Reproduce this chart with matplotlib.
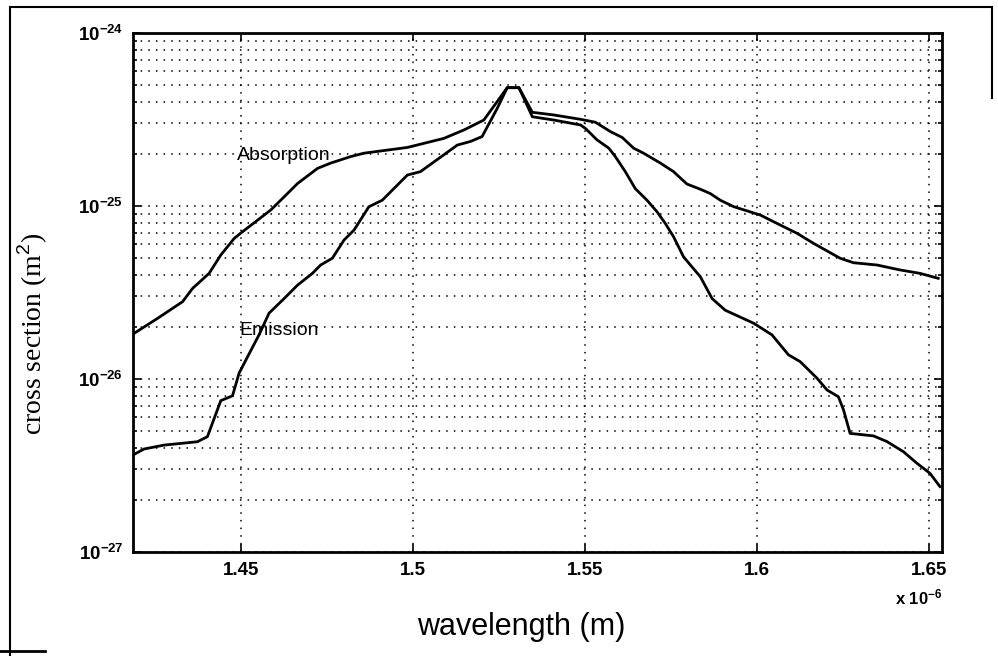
import numpy as np
import matplotlib
matplotlib.use("Agg")
import matplotlib.pyplot as plt
from matplotlib.ticker import FixedLocator, LogLocator, FuncFormatter, NullFormatter
from matplotlib.lines import Line2D

# Data (wavelength in micrometres, cross section in m^2)
abs_wl = [1.4187, 1.4258, 1.4331, 1.4360, 1.4408, 1.4442, 1.4481, 1.4505, 1.4587,
          1.4626, 1.4665, 1.4723, 1.4761, 1.4819, 1.4858, 1.4984, 1.5090, 1.5148,
          1.5206, 1.5274, 1.5308, 1.5347, 1.5409, 1.5487, 1.5501, 1.5535, 1.5569,
          1.5588, 1.5617, 1.5646, 1.5680, 1.5709, 1.5733, 1.5757, 1.5786, 1.5806,
          1.5835, 1.5869, 1.5907, 1.5990, 1.6043, 1.6091, 1.6125, 1.6174, 1.6203,
          1.6236, 1.6251, 1.6270, 1.6338, 1.6377, 1.6425, 1.6464, 1.6502, 1.6531]
abs_cs = [1.82e-26, 2.24e-26, 2.80e-26, 3.34e-26, 4.08e-26, 5.21e-26, 6.50e-26, 7.10e-26, 9.48e-26,
          1.13e-25, 1.35e-25, 1.65e-25, 1.77e-25, 1.93e-25, 2.02e-25, 2.18e-25, 2.46e-25, 2.75e-25,
          3.14e-25, 4.83e-25, 4.83e-25, 3.28e-25, 3.14e-25, 2.94e-25, 2.81e-25, 2.41e-25, 2.16e-25,
          1.93e-25, 1.58e-25, 1.26e-25, 1.08e-25, 9.27e-26, 7.94e-26, 6.65e-26, 5.09e-26, 4.56e-26,
          3.90e-26, 2.92e-26, 2.50e-26, 2.10e-26, 1.80e-26, 1.38e-26, 1.26e-26, 1.01e-26, 8.64e-27,
          7.90e-27, 6.62e-27, 4.85e-27, 4.69e-27, 4.35e-27, 3.80e-27, 3.26e-27, 2.85e-27, 2.39e-27]

em_wl = [1.4187, 1.4219, 1.4277, 1.4374, 1.4403, 1.4442, 1.4476, 1.4495, 1.4515, 1.4553,
         1.4582, 1.4626, 1.4665, 1.4708, 1.4732, 1.4766, 1.4800, 1.4829, 1.4872, 1.4911,
         1.4984, 1.5022, 1.5129, 1.5167, 1.5201, 1.5245, 1.5274, 1.5308, 1.5347, 1.5409,
         1.5487, 1.5530, 1.5574, 1.5608, 1.5641, 1.5670, 1.5719, 1.5757, 1.5796, 1.5835,
         1.5864, 1.5893, 1.5932, 1.6009, 1.6048, 1.6116, 1.6164, 1.6241, 1.6280, 1.6348,
         1.6415, 1.6473, 1.6526]
em_cs = [3.64e-27, 3.94e-27, 4.15e-27, 4.34e-27, 4.64e-27, 7.50e-27, 8.00e-27, 1.08e-26, 1.29e-26, 1.80e-26,
         2.40e-26, 2.92e-26, 3.49e-26, 4.08e-26, 4.56e-26, 4.99e-26, 6.36e-26, 7.26e-26, 9.90e-26, 1.08e-25,
         1.51e-25, 1.58e-25, 2.25e-25, 2.36e-25, 2.52e-25, 3.67e-25, 4.83e-25, 4.83e-25, 3.48e-25, 3.36e-25,
         3.17e-25, 3.05e-25, 2.69e-25, 2.49e-25, 2.16e-25, 2.02e-25, 1.77e-25, 1.58e-25, 1.34e-25, 1.25e-25,
         1.18e-25, 1.08e-25, 9.91e-26, 8.87e-26, 8.11e-26, 6.95e-26, 6.08e-26, 4.99e-26, 4.70e-26, 4.56e-26,
         4.27e-26, 4.08e-26, 3.82e-26]

x_ticks_um = [1.45, 1.5, 1.55, 1.6, 1.65]

plt.rcParams['font.family'] = ['Liberation Sans', 'DejaVu Sans']
plt.rcParams['mathtext.fontset'] = 'custom'
plt.rcParams['mathtext.rm'] = 'Liberation Sans'
plt.rcParams['mathtext.bf'] = 'Liberation Sans:bold'

fig = plt.figure(figsize=(9.98, 6.56), dpi=100)
ax = fig.add_axes([0.1333, 0.1585, 0.8106, 0.7912])

ax.semilogy(np.array(abs_wl) * 1e-6, abs_cs, color='black', lw=2.0)
ax.semilogy(np.array(em_wl) * 1e-6, em_cs, color='black', lw=2.0)

ax.set_xlim(1.4187e-6, 1.6537e-6)
ax.set_ylim(1e-27, 1e-24)

ax.xaxis.set_major_locator(FixedLocator([v * 1e-6 for v in x_ticks_um]))
ax.xaxis.set_major_formatter(FuncFormatter(lambda v, _: f'{v * 1e6:g}'))
ax.yaxis.set_major_locator(FixedLocator([1e-27, 1e-26, 1e-25, 1e-24]))
ax.yaxis.set_minor_locator(LogLocator(base=10, subs=np.arange(2, 10), numticks=10))
ax.yaxis.set_minor_formatter(NullFormatter())
ax.yaxis.set_major_formatter(FuncFormatter(lambda v, _: r'$\mathbf{10^{%d}}$' % round(np.log10(v))))
ax.xaxis.get_offset_text().set_visible(False)
ax.yaxis.get_offset_text().set_visible(False)

dots = (0, (1, 4))
ax.grid(True, which='major', axis='x', color='black', linestyle=dots, lw=1.1)
ax.grid(True, which='both', axis='y', color='black', linestyle=dots, lw=1.1)

ax.tick_params(which='both', direction='in', top=True, right=True, width=1.2)
ax.tick_params(which='major', length=6, labelsize=13.5, pad=7)
ax.tick_params(which='minor', length=3)
for lbl in ax.get_xticklabels():
    lbl.set_fontweight('bold')
for sp in ax.spines.values():
    sp.set_linewidth(2.0)

ax.text(1.0, -0.088, r'x $\mathbf{10^{-6}}$', transform=ax.transAxes, ha='right',
        va='center', fontsize=12, fontweight='bold')

ax.text(1.449e-6, 1.97e-25, 'Absorption', fontsize=14, va='center', ha='left')
ax.text(1.4495e-6, 1.92e-26, 'Emission', fontsize=14, va='center', ha='left')

ax.set_xlabel('wavelength (m)', fontsize=22)
ax.xaxis.set_label_coords(0.48, -0.115)
ax.set_ylabel('cross section (m$^2$)', fontsize=20, family=['Liberation Serif'])
ax.yaxis.set_label_coords(-0.103, 0.42)

# scanned page frame
fig.add_artist(Line2D([0.010, 0.010], [0.0, 0.990], transform=fig.transFigure, color='black', lw=1.5))
fig.add_artist(Line2D([0.010, 0.994], [0.990, 0.990], transform=fig.transFigure, color='black', lw=1.5))
fig.add_artist(Line2D([0.994, 0.994], [0.990, 0.85], transform=fig.transFigure, color='black', lw=1.5))
fig.add_artist(Line2D([0.0, 0.045], [0.008, 0.008], transform=fig.transFigure, color='black', lw=2))

fig.savefig('out.png', dpi=100)
